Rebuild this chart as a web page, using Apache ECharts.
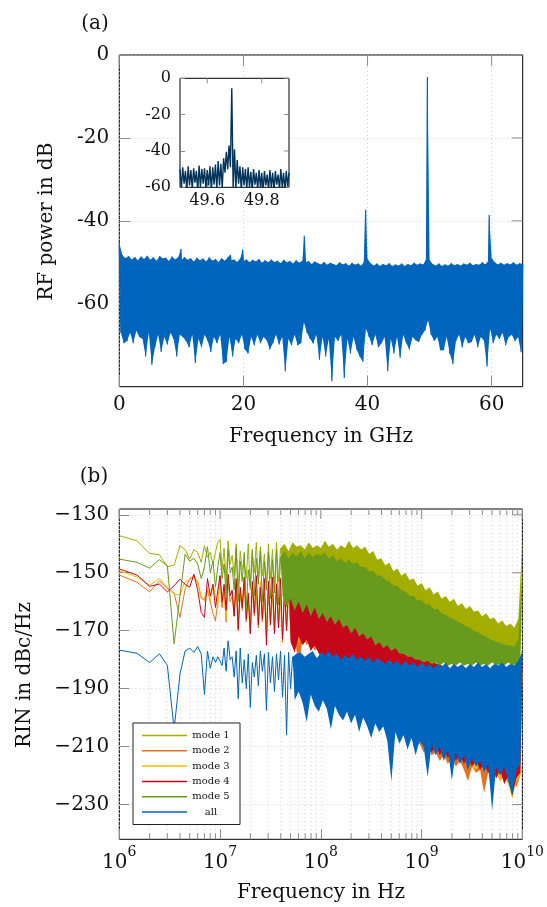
<!DOCTYPE html>
<html><head><meta charset="utf-8">
<script src="https://cdn.jsdelivr.net/npm/echarts@6/dist/echarts.min.js"></script>
<style>html,body{margin:0;padding:0;background:#fff}#c{width:547px;height:907px}</style>
</head><body><div id="c"></div>
<script>
// ================= DATA =================
// (a) RF spectrum: upper envelope at 0,0.5,...,65 GHz ; lower envelope at 0.25,0.75,...,64.75 GHz
const rfXTicks = [0, 20, 40, 60];
const rfYTicks = [-60, -40, -20, 0];
const rfStepGHz = 0.5;
const rfUp = [-45.4,-48.3,-49,-48.5,-49.3,-48.7,-49.5,-48.6,-49.2,-48.4,
 -49.4,-48.8,-49.6,-48.5,-49.1,-48.9,-49.7,-48.6,-49.3,-48.8,
 -49.5,-48.7,-49.4,-49,-49.8,-48.9,-49.5,-49.1,-49.8,-48.8,
 -49.6,-49.2,-49.9,-49,-49.6,-48.8,-49.5,-49.3,-49.9,-49.1,
 -49.7,-49.3,-50,-49.4,-49.8,-49.2,-50.1,-49.5,-50,-49.3,
 -49.9,-49.6,-50.2,-49.4,-50,-49.7,-50.3,-49.5,-50.1,-49.6,
 -50,-49.7,-50.4,-49.8,-50.2,-50.5,-49.9,-50.6,-50.1,-50.4,
 -50.7,-50,-50.5,-50.2,-50.8,-50.1,-50.6,-50.3,-50.8,-49.6,
 -49.2,-50.2,-50.8,-50.3,-50.9,-50.4,-50.7,-50.2,-50.9,-50.5,
 -50.8,-50.3,-50.9,-50.4,-50.7,-50.1,-50.6,-50.3,-50.5,-49,
 -49.5,-50.4,-50.8,-50.3,-50.9,-50.5,-50.8,-50.2,-50.7,-50.4,
 -50.8,-50.3,-50.6,-50.1,-50.7,-50.4,-50.6,-50,-50.5,-49.5,
 -49,-50,-50.5,-50.1,-50.6,-50.2,-50.5,-50,-50.6,-50.2,
 -50.4];
const rfLo = [-67,-69.5,-69,-67,-69.5,-66.5,-68,-68.5,-72.7,-67,
 -74.7,-70.5,-67.5,-71.6,-68,-69.8,-67,-68.5,-72.7,-67.5,
 -68,-69,-70.5,-67.5,-74.3,-68.5,-70.5,-67.5,-69,-71.6,
 -68,-69.5,-67.5,-74.5,-74,-68,-72.7,-68.5,-69.5,-67.5,
 -71,-72,-68,-70,-67.5,-69.5,-68,-68.8,-71,-69.5,
 -67.5,-69.8,-68,-76.3,-68.5,-70,-67.5,-70,-69.5,-64.5,
 -67,-68.5,-69.6,-67.5,-73.5,-68,-72.7,-68.5,-78.7,-68,
 -69,-67.5,-77.9,-68.5,-72,-68,-71,-72.7,-74,-66,
 -68,-70,-67.5,-70.5,-69.5,-68,-76.3,-68.5,-72,-68,
 -73,-67.5,-69.5,-71,-68,-68.8,-69.2,-67.5,-66.5,-64,
 -67.5,-69,-68,-71.2,-71.2,-68,-72,-74.5,-69,-67.5,
 -70.5,-68,-69.5,-69.2,-67.5,-70.5,-68,-68.8,-75.1,-66,
 -69.5,-67.5,-68.5,-67,-70,-68,-67.5,-69,-68,-71.7];
const rfPeakGHz = [9.93, 17.9, 19.86, 29.8, 39.7, 49.64, 59.6];
const rfPeakdB  = [-46.8, -48.2, -46.9, -43.6, -37.3, -5.3, -38.6];

// inset: upper at 49.50..49.90 step 0.01 GHz, lower at 49.505..49.895
const insetXTicks = [49.6, 49.8];
const insetYTicks = [-60, -40, -20, 0];
const insetStart = 49.5, insetStep = 0.01;
const insetUp = [-50,-49,-51,-48.5,-50.5,-49.5,-51,-48,-50,-49.5,
 -50.5,-48.5,-49,-47.5,-45.5,-47,-44,-40.5,-37,-5.5,
 -39,-45,-48.5,-49,-50,-49,-51.5,-50,-52,-50.5,
 -52,-51,-53,-50.5,-52,-51,-53,-50,-52,-51,
 -52];
const insetLo = [-61,-58,-62,-59,-61,-57.5,-62,-60,-58,-61,
 -59,-62,-58.5,-61,-59,-60.5,-52,-50,-49,-60.5,
 -61,-58,-62,-59,-61,-60,-62,-58.5,-61,-60,
 -62,-59,-61.5,-60,-62,-58.5,-61,-60,-62,-59.5];

// (b) RIN
const rinXTicks = [1e6, 1e7, 1e8, 1e9, 1e10];
const rinYTicks = [-230, -210, -190, -170, -150, -130];
const rinMinorHz = [2e6,3e6,4e6,5e6,6e6,7e6,8e6,9e6,
 2e7,3e7,4e7,5e7,6e7,7e7,8e7,9e7,
 2e8,3e8,4e8,5e8,6e8,7e8,8e8,9e8,
 2e9,3e9,4e9,5e9,6e9,7e9,8e9,9e9];
const lowMHz = [1,1.5,2,2.5,3,3.5,4,4.5,5,5.5,6,6.5,7,7.5,8,8.5,9,9.5];
const m1Low = [-137.2,-139,-143.3,-143.8,-147.9,-147.4,-140.7,-142,-145.3,-142,-143,-146.4,-140.7,-144.7,-143,-147,-143,-139.5];
const m2Low = [-150.8,-153.3,-156.6,-152.8,-155.4,-157,-165.4,-155.6,-152,-151.5,-153,-158.8,-159.5,-156,-160,-164,-166.6,-160];
const m3Low = [-149.3,-151.5,-154.3,-152,-155,-157.4,-157.7,-153,-152.5,-151,-153.5,-158.5,-159,-155,-160,-154,-158,-162];
const m4Low = [-148.7,-150.8,-154.7,-153.9,-156.6,-154.5,-152.2,-154,-155,-150.5,-156,-163.7,-165.4,-152,-158,-154,-162,-156];
const m5Low = [-145.3,-146.4,-148.4,-145.5,-147.6,-174.5,-158,-143.6,-146,-145,-147,-152,-148,-141,-150,-146,-155,-148];
const allLow = [-176.7,-177.8,-181,-178,-182,-204,-185,-177,-176,-177.5,-175.5,-178,-192,-177,-183,-179,-181,-179];
// envelope vertices above 10 MHz: upper at log10(f)=7.00+0.04k, lower at 7.02+0.04k
const envStartLog = 7, envStepLog = 0.04;
const m1Up = [-138.5,-141.5,-139,-144,-140,-142.5,-146,-140,-143,-139.5,
 -141,-143.5,-140,-142,-139.5,-141.5,-140,-142.5,-139.5,-141,
 -140.5,-142,-139.5,-141.5,-140.5,-141.5,-139,-141,-140,-142,
 -140.5,-141.5,-139,-141.5,-140.5,-142,-141,-143.5,-142.5,-145.5,
 -145,-147.5,-146.5,-149.5,-148.5,-151,-150,-152.5,-152,-154.5,
 -153.5,-156,-155,-157.5,-156.5,-159,-158,-160,-159,-161.5,
 -160.5,-162.5,-161.5,-163.5,-163,-165,-164,-166,-165.5,-167.5,
 -166.5,-168.5,-167.5,-169,-166,-138.5];
const m1Lo = [-149,-153,-147,-151,-155,-149,-152,-156,-150,-153,
 -151,-155,-152,-156,-153,-155,-157,-154,-158,-156,
 -159,-157,-160,-158,-161,-160,-162,-161,-163,-162,
 -164,-163,-165,-164,-166,-165,-167,-166,-168,-167,
 -169,-168,-170,-169,-171,-170,-172,-171,-173,-172,
 -174,-173,-175,-174,-176,-175,-177,-176,-177,-176,
 -178,-177,-178,-177,-179,-178,-179,-178,-179,-178,
 -179,-178,-179,-178,-176];
const m2Up = [-152,-156,-153,-158,-154,-157,-153,-159,-155,-157,
 -154,-158,-155,-157,-154,-158,-156,-158,-155,-159,
 -156,-159,-157,-160,-157,-159,-158,-161,-160,-163,
 -162,-165,-164,-167,-167,-169,-170,-172,-173,-175,
 -176,-178,-179,-181,-181.5,-183,-183,-184,-184,-185,
 -185,-185.5,-186,-185.5,-186.5,-186,-186.5,-186,-187,-186.5,
 -187,-186.5,-187,-186.5,-187.5,-187,-187.5,-187,-187.5,-187,
 -188,-187.5,-188,-187.5,-187,-185];
const m2Lo = [-162,-167,-160,-165,-170,-163,-167,-171,-165,-169,
 -167,-172,-168,-171,-169,-174,-170,-173,-171,-184,
 -172,-175,-173,-177,-175,-179,-178,-181,-180,-182,
 -182,-184,-185,-187,-188,-190,-191,-193,-195,-197,
 -198,-200,-202,-203,-205,-206,-208,-207,-210,-209,
 -212,-210,-213,-212,-215,-213,-216,-214,-217,-215,
 -218,-222,-217,-219,-218,-226,-219,-221,-219,-222,
 -220,-223,-221,-224,-220];
const m3Up = [-151,-155,-152,-157,-153,-156,-152,-158,-154,-156,
 -153,-157,-154,-156,-153.5,-157,-155,-157,-154,-158,
 -155,-158,-156,-159,-156,-158,-157,-160,-159,-162,
 -161,-164,-163,-166,-166,-168,-169,-171,-172,-174,
 -175,-177,-178,-180,-180.5,-182,-182,-183,-183,-184,
 -184,-184.5,-185,-184.5,-185.5,-185,-185.5,-185,-186,-185.5,
 -186,-185.5,-186,-185.5,-186.5,-186,-186.5,-186,-186.5,-186,
 -187,-186.5,-187,-186.5,-186,-184];
const m3Lo = [-160,-166,-158,-163,-168,-161,-165,-169,-163,-167,
 -165,-170,-166,-169,-167,-172,-168,-171,-169,-174,
 -170,-173,-171,-175,-173,-177,-176,-179,-178,-180,
 -180,-182,-183,-185,-186,-188,-189,-191,-193,-195,
 -196,-198,-200,-201,-203,-204,-206,-205,-208,-207,
 -210,-208,-211,-210,-213,-211,-214,-212,-215,-213,
 -216,-214,-217,-218,-216,-219,-217,-220,-218,-222,
 -219,-223,-228,-222,-220];
const m4Up = [-151,-154,-150.5,-156,-152,-155,-151.5,-157,-153,-151,
 -155,-152,-153,-151.5,-154,-152,-155,-152.5,-154,-153,
 -155,-152.5,-154,-153,-155,-153.5,-155,-154,-156,-155.5,
 -157,-157,-158,-158.5,-159.5,-160,-161.5,-162,-163.5,-164.5,
 -165.5,-167,-168,-169.5,-171,-172,-173,-174,-175.5,-177,
 -178,-179,-180,-181,-181.5,-182,-182.5,-183,-182.5,-183,
 -183.5,-183,-184,-183.5,-184,-183.5,-184,-184.5,-184,-184.5,
 -184,-184.5,-184,-184.5,-184,-182];
const m4Lo = [-160,-163,-158,-165,-169.5,-162,-166,-171,-164,-168,
 -166,-175,-168,-171,-169,-173,-170,-174,-177.5,-172,
 -175,-173,-177,-175,-178,-179,-181,-180,-182,-181,
 -183,-184,-186,-187,-189,-190,-192,-193,-195,-196,
 -198,-199,-201,-202,-204,-205,-207,-206,-209,-208,
 -210,-209,-212,-210,-213,-211,-214,-212,-215,-213,
 -216,-214,-217,-215,-218,-216,-219,-217,-221,-218,
 -223,-220,-227,-221,-219];
const m5Up = [-143,-147,-142,-148,-141.5,-146,-143,-149,-142,-145,
 -142.5,-146,-143,-145.5,-142,-144.5,-142.5,-145,-143,-144.5,
 -142.5,-145,-143,-144.5,-143.5,-144,-143,-145,-144,-146,
 -145,-146.5,-145.5,-147,-146.5,-148,-148,-149.5,-149.5,-151,
 -151,-152.5,-153,-154.5,-154.5,-156,-156.5,-158,-158,-159.5,
 -159.5,-161,-161,-162.5,-162.5,-164,-164.5,-165.5,-166,-167,
 -167.5,-168.5,-169,-170,-170.5,-171.5,-172,-173,-173.5,-174,
 -174.5,-175,-175,-175.5,-173,-150];
const m5Lo = [-152,-158,-150,-156,-160,-153,-163,-155,-158,-154,
 -160,-156,-159,-157,-161,-158,-162,-159,-163,-160,
 -164,-161,-165,-162,-166,-164,-167,-165,-168,-166,
 -169,-168,-171,-169,-172,-171,-173,-172,-175,-174,
 -176,-175,-177,-176,-178,-178,-179,-179,-180,-180,
 -181,-180.5,-181.5,-181,-182,-181,-182,-181.5,-182,-181,
 -182,-181.5,-182,-181,-182,-181.5,-182,-181,-182,-181.5,
 -182,-181,-182,-181.5,-181];
const allUp = [-180.5,-176,-173.5,-179,-177,-176,-180,-178,-181,-178.5,
 -177,-178,-177.5,-179,-178,-177,-178.5,-177.5,-179,-178,
 -177.5,-179,-178,-177,-179.5,-177.5,-178.5,-177,-179,-178,
 -180,-178.5,-179.5,-178,-180,-179,-180.5,-179,-181,-179.5,
 -180.5,-181.5,-180,-181.5,-180.5,-182,-180.5,-182,-181,-182.5,
 -181,-182.5,-181.5,-183,-181.5,-182.5,-181,-183,-181.5,-182.5,
 -181.5,-183,-181.5,-182.5,-181,-182.5,-181.5,-183,-181.5,-182,
 -181,-182.5,-181.5,-182,-180.5,-177];
const allLo = [-182,-184,-180,-186,-193.5,-188,-190,-196.5,-186,-189,
 -184,-197.5,-188,-191,-187,-193,-206,-190,-194,-191,
 -195,-201.5,-192,-196,-198,-194,-197,-204,-196,-199,
 -201,-198,-202,-199,-205,-200,-203,-207,-202,-205,
 -203,-208,-222,-205,-209,-206,-211,-207,-213,-208,
 -210,-220.5,-209,-213,-210,-215,-211,-221.5,-212,-216,
 -213,-218,-214,-217,-215,-219,-216,-232,-217,-220,
 -217,-222,-227,-218,-216];
const modeNames = ['mode 1', 'mode 2', 'mode 3', 'mode 4', 'mode 5', 'all'];

// ================= STYLE / BUILD =================
const FONT = '"DejaVu Serif", serif';
const TICK = '#8c8c8c';
const GRIDLINE = { color: '#c4c4c4', type: [1, 3], width: 0.8 };
const colors = ['#A2AD00', '#E37222', '#F9BA00', '#C4071B', '#689A1D', '#0065BD'];
const bandFrom = [15, 17, 17, 17, 15, 18];   // envelope index where the trace becomes a dense band
const lows = [m1Low, m2Low, m3Low, m4Low, m5Low, allLow];
const ups = [m1Up, m2Up, m3Up, m4Up, m5Up, allUp];
const los = [m1Lo, m2Lo, m3Lo, m4Lo, m5Lo, allLo];
const RIN_MIN = -242, RIN_MAX = -128;

const pairsLin = (arr, x0, step) => arr.map((v, i) => [x0 + i * step, v]);
const pairsLog = (arr, off) => arr.map((v, i) => [Math.pow(10, envStartLog + envStepLog * (i + off)), v]);
function interleave(a, b) {
  const p = [];
  for (let i = 0; i < a.length; i++) { p.push(a[i]); if (i < b.length) p.push(b[i]); }
  return p;
}

// RF traces
const rfUpper = pairsLin(rfUp, 0, rfStepGHz);
const rfLower = pairsLin(rfLo, rfStepGHz / 2, rfStepGHz);
rfPeakGHz.forEach((f, k) => rfUpper.push([f, rfPeakdB[k]]));
rfUpper.sort((a, b) => a[0] - b[0]);
const rfLine = interleave(pairsLin(rfUp, 0, rfStepGHz), rfLower);
rfPeakGHz.forEach((f, k) => rfLine.push([f, rfPeakdB[k]]));
rfLine.sort((a, b) => a[0] - b[0]);
const insetUpper = pairsLin(insetUp, insetStart, insetStep);
const insetLower = pairsLin(insetLo, insetStart + insetStep / 2, insetStep);
const insetLine = interleave(insetUpper, insetLower);

function band(xi, yi, upper, lower, color, z) {
  return { type: 'custom', xAxisIndex: xi, yAxisIndex: yi, z: z, silent: true, clip: true,
    data: [upper[0]],
    renderItem: (params, api) => {
      if (params.dataIndex !== 0) return null;
      const pts = upper.map(p => api.coord(p)).concat(lower.slice().reverse().map(p => api.coord(p)));
      return { type: 'polygon', shape: { points: pts }, style: { fill: color } };
    } };
}
// ticks on the top and right frame edges
function mirrorTicks(xi, yi, xTicks, yTicks, xMax, yMax, len, z) {
  return { type: 'custom', xAxisIndex: xi, yAxisIndex: yi, z: z, silent: true,
    data: xTicks.map(v => [v, yMax, 0]).concat(yTicks.map(v => [xMax, v, 1])),
    renderItem: (params, api) => {
      const c = api.coord([api.value(0), api.value(1)]);
      const vert = api.value(2) === 0;
      return { type: 'line', shape: vert ? { x1: c[0], y1: c[1], x2: c[0], y2: c[1] + len }
                                         : { x1: c[0], y1: c[1], x2: c[0] - len, y2: c[1] },
        style: { stroke: TICK, lineWidth: 1 } };
    } };
}

const lbl = { fontFamily: FONT, fontSize: 20, color: '#111' };
function ax(extra) {
  return Object.assign({ axisLine: { show: false, onZero: false }, axisLabel: { show: false }, splitLine: { show: false } }, extra);
}
const xAxes = [
  ax({ type: 'value', gridIndex: 0, min: 0, max: 65,
    axisTick: { show: true, inside: true, length: 11, lineStyle: { color: TICK }, customValues: rfXTicks },
    axisLabel: Object.assign({ show: true, margin: 8, customValues: rfXTicks }, lbl),
    splitLine: { show: true, lineStyle: GRIDLINE } }),
  ax({ type: 'value', gridIndex: 1, min: 49.5, max: 49.9, z: 4,
    axisTick: { show: true, inside: true, length: 5, lineStyle: { color: TICK }, customValues: insetXTicks },
    axisLabel: { show: true, margin: 6, customValues: insetXTicks, fontFamily: FONT, fontSize: 16, color: '#111',
      formatter: v => Number(v).toFixed(1) } }),
  ax({ type: 'log', logBase: 10, gridIndex: 2, min: 1e6, max: 1e10,
    axisTick: { show: true, inside: true, length: 10, lineStyle: { color: TICK } },
    axisLabel: { show: true, margin: 6,
      formatter: v => '{b|10}{s|' + Math.round(Math.log10(v)) + '}',
      rich: { b: { fontFamily: FONT, fontSize: 20, color: '#111', padding: [7, 0, 0, 0] },
              s: { fontFamily: FONT, fontSize: 14, color: '#111', verticalAlign: 'top' } } },
    splitLine: { show: true, lineStyle: GRIDLINE } })
];
const yAxes = [
  ax({ type: 'value', gridIndex: 0, min: -80, max: 0,
    axisTick: { show: true, inside: true, length: 11, lineStyle: { color: TICK }, customValues: rfYTicks },
    axisLabel: Object.assign({ show: true, margin: 10, customValues: rfYTicks }, lbl),
    splitLine: { show: true, lineStyle: GRIDLINE } }),
  ax({ type: 'value', gridIndex: 1, min: -60, max: 0, z: 4,
    axisTick: { show: true, inside: true, length: 5, lineStyle: { color: TICK }, customValues: insetYTicks },
    axisLabel: { show: true, margin: 9, customValues: insetYTicks, fontFamily: FONT, fontSize: 16, color: '#111' } }),
  ax({ type: 'value', gridIndex: 2, min: RIN_MIN, max: RIN_MAX,
    axisTick: { show: true, inside: true, length: 10, lineStyle: { color: TICK }, customValues: rinYTicks },
    axisLabel: Object.assign({ show: true, margin: 10, customValues: rinYTicks,
      formatter: v => (v < 0 ? '\u2212' : '') + Math.abs(v) }, lbl),
    splitLine: { show: true, lineStyle: GRIDLINE } })
];

const series = [];
series.push(mirrorTicks(0, 0, rfXTicks, rfYTicks, 65, 0, 11, 1));
series.push(band(0, 0, rfUpper, rfLower, '#0065BD', 2));
series.push({ name: 'rf', type: 'line', xAxisIndex: 0, yAxisIndex: 0, data: rfLine, symbol: 'none',
  lineStyle: { color: '#0065BD', width: 1.2, join: 'bevel' }, z: 2 });
series.push({ name: 'inset', type: 'line', xAxisIndex: 1, yAxisIndex: 1, data: insetLine, symbol: 'none',
  lineStyle: { color: '#003359', width: 1.4, join: 'bevel' }, z: 5 });
series.push(mirrorTicks(1, 1, insetXTicks, insetYTicks, 49.9, 0, 5, 5));
// minor log grid + minor ticks
series.push({ name: 'minor', type: 'custom', xAxisIndex: 2, yAxisIndex: 2, z: 1, silent: true,
  data: rinMinorHz.map(f => [f, RIN_MIN]),
  renderItem: (params, api) => {
    const f = api.value(0);
    const t = api.coord([f, RIN_MAX]), b = api.coord([f, RIN_MIN]);
    return { type: 'group', children: [
      { type: 'line', shape: { x1: t[0], y1: t[1], x2: b[0], y2: b[1] }, style: { stroke: GRIDLINE.color, lineWidth: 0.8, lineDash: [1, 3] } },
      { type: 'line', shape: { x1: t[0], y1: t[1], x2: t[0], y2: t[1] + 6 }, style: { stroke: TICK, lineWidth: 1 } },
      { type: 'line', shape: { x1: b[0], y1: b[1], x2: b[0], y2: b[1] - 6 }, style: { stroke: TICK, lineWidth: 1 } }
    ] };
  } });
series.push(mirrorTicks(2, 2, rinXTicks, rinYTicks, 1e10, RIN_MAX, 10, 1));
modeNames.forEach((name, k) => {
  const z = 2 + k * 0.1;
  const upP = pairsLog(ups[k], 0), loP = pairsLog(los[k], 0.5);
  const s = bandFrom[k];
  const line = lowMHz.map((m, j) => [m * 1e6, lows[k][j]]).concat(interleave(upP.slice(0, s + 1), loP.slice(0, s)));
  series.push({ name: name, type: 'line', xAxisIndex: 2, yAxisIndex: 2, data: line, symbol: 'none',
    lineStyle: { color: colors[k], width: 1 }, itemStyle: { color: colors[k] }, z: z });
  series.push(band(2, 2, upP.slice(s), loP.slice(s), colors[k], z));
});

function txt(text, x, y, rot, size) {
  return { type: 'text', x: x, y: y, rotation: rot || 0, z: 10,
    style: { text: text, fontFamily: FONT, fontSize: size || 20, fill: '#111',
      align: 'center', verticalAlign: 'middle', textAlign: 'center', textVerticalAlign: 'middle' } };
}

const option = {
  animation: false,
  backgroundColor: '#fff',
  grid: [
    { left: 119.3, top: 55, width: 403.4, height: 331.7, show: true, borderColor: '#000', borderWidth: 1, backgroundColor: 'rgba(0,0,0,0)' },
    { left: 180, top: 78.3, width: 109, height: 109, show: true, borderColor: '#000', borderWidth: 1, backgroundColor: '#fff', z: 3 },
    { left: 119.3, top: 509, width: 403.4, height: 330.3, show: true, borderColor: '#000', borderWidth: 1, backgroundColor: 'rgba(0,0,0,0)' }
  ],
  xAxis: xAxes,
  yAxis: yAxes,
  legend: {
    data: modeNames, orient: 'vertical', left: 133, top: 723, selectedMode: false, z: 20,
    icon: 'rect', itemWidth: 45, itemHeight: 1.5, itemGap: 0.3,
    padding: [5, 10, 5, 9],
    backgroundColor: '#fff', borderColor: '#222', borderWidth: 1, borderRadius: 0,
    formatter: n => '{t|' + n + '}',
    textStyle: { fontFamily: FONT, fontSize: 10, color: '#111', lineHeight: 15,
      rich: { t: { width: 38, align: 'center', fontFamily: FONT, fontSize: 10, lineHeight: 15 } } }
  },
  graphic: [
    txt('(a)', 95, 24),
    txt('RF power in dB', 46.7, 221.7, Math.PI / 2),
    txt('Frequency in GHz', 321, 436.5),
    txt('(b)', 94, 477),
    txt('RIN in dBc/Hz', 24.5, 675, Math.PI / 2),
    txt('Frequency in Hz', 321, 893)
  ],
  series: series
};
const chart = echarts.init(document.getElementById('c'), null, { renderer: 'canvas' });
chart.setOption(option);
</script></body></html>
